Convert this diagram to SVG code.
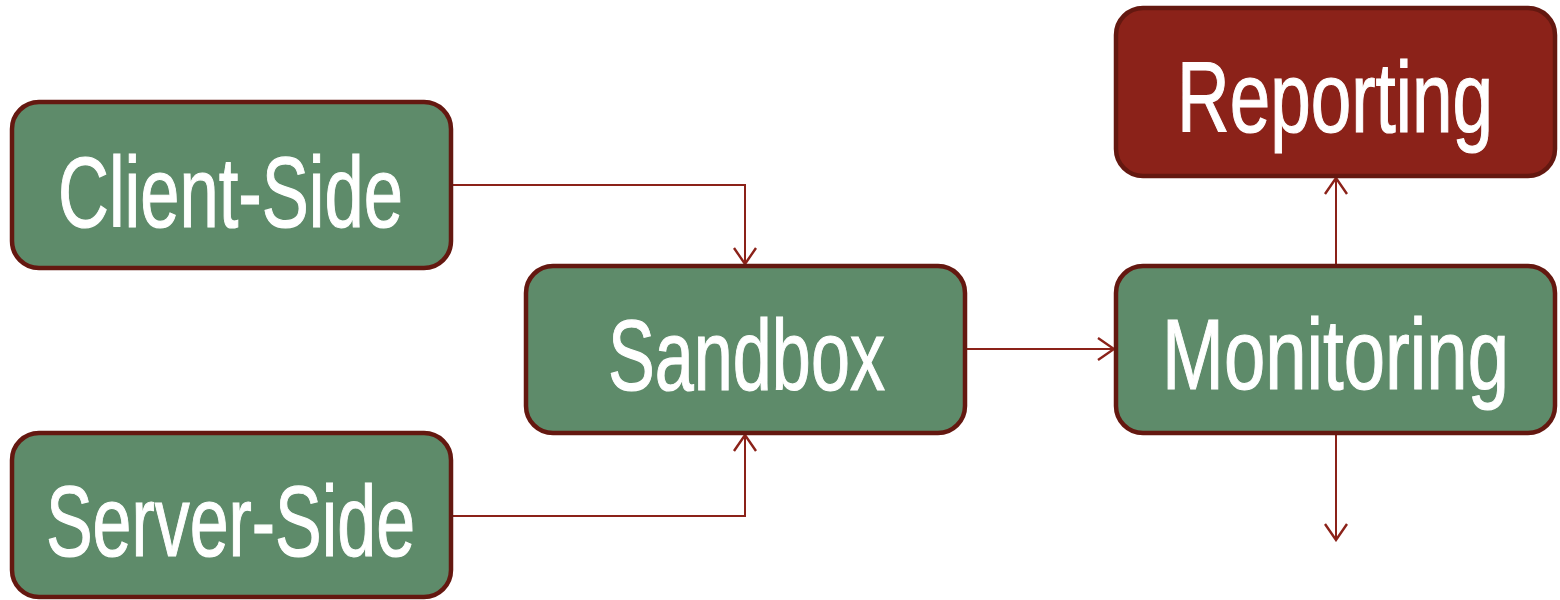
<svg xmlns="http://www.w3.org/2000/svg" width="1560" height="600" viewBox="0 0 1560 600">
  <style>
    .box { fill: #5e8b6a; stroke: #641810; stroke-width: 4.5; }
    .box.alert { fill: #8b2219; }
    .label { fill: #ffffff; stroke: #ffffff; stroke-width: 1.2; font-family: "Liberation Sans", Arial, sans-serif; font-size: 101px; }
    .link { fill: none; stroke: #8b2219; stroke-width: 2; }
  </style>
  <defs>
    <marker id="arrow" viewBox="0 0 20 26" refX="18" refY="13" markerWidth="20" markerHeight="26" markerUnits="userSpaceOnUse" orient="auto">
      <path d="M2,2 L18,13 L2,24" fill="none" stroke="#8b2219" stroke-width="2.4"/>
    </marker>
  </defs>

  <g id="connectors">
    <path class="link" d="M452,185 H745 V264" marker-end="url(#arrow)"/>
    <path class="link" d="M452,516 H745 V435" marker-end="url(#arrow)"/>
    <path class="link" d="M966,349 H1114" marker-end="url(#arrow)"/>
    <path class="link" d="M1336,265 V178" marker-end="url(#arrow)"/>
    <path class="link" d="M1336,434 V540" marker-end="url(#arrow)"/>
  </g>

  <g id="client-side">
    <rect class="box" x="12" y="102" width="439" height="166" rx="27"/>
    <text class="label" x="58" y="227" textLength="345" lengthAdjust="spacingAndGlyphs">Client-Side</text>
  </g>

  <g id="server-side">
    <rect class="box" x="12" y="433" width="439" height="164" rx="27"/>
    <text class="label" x="46" y="556" textLength="369" lengthAdjust="spacingAndGlyphs">Server-Side</text>
  </g>

  <g id="sandbox">
    <rect class="box" x="526" y="266" width="439" height="167" rx="27"/>
    <text class="label" x="608" y="390" textLength="277" lengthAdjust="spacingAndGlyphs">Sandbox</text>
  </g>

  <g id="monitoring">
    <rect class="box" x="1116" y="266" width="439" height="167" rx="27"/>
    <text class="label" x="1162" y="389" textLength="347" lengthAdjust="spacingAndGlyphs">Monitoring</text>
  </g>

  <g id="reporting">
    <rect class="box alert" x="1116" y="8" width="439" height="168" rx="27"/>
    <text class="label" x="1177" y="132" textLength="316" lengthAdjust="spacingAndGlyphs">Reporting</text>
  </g>
</svg>
